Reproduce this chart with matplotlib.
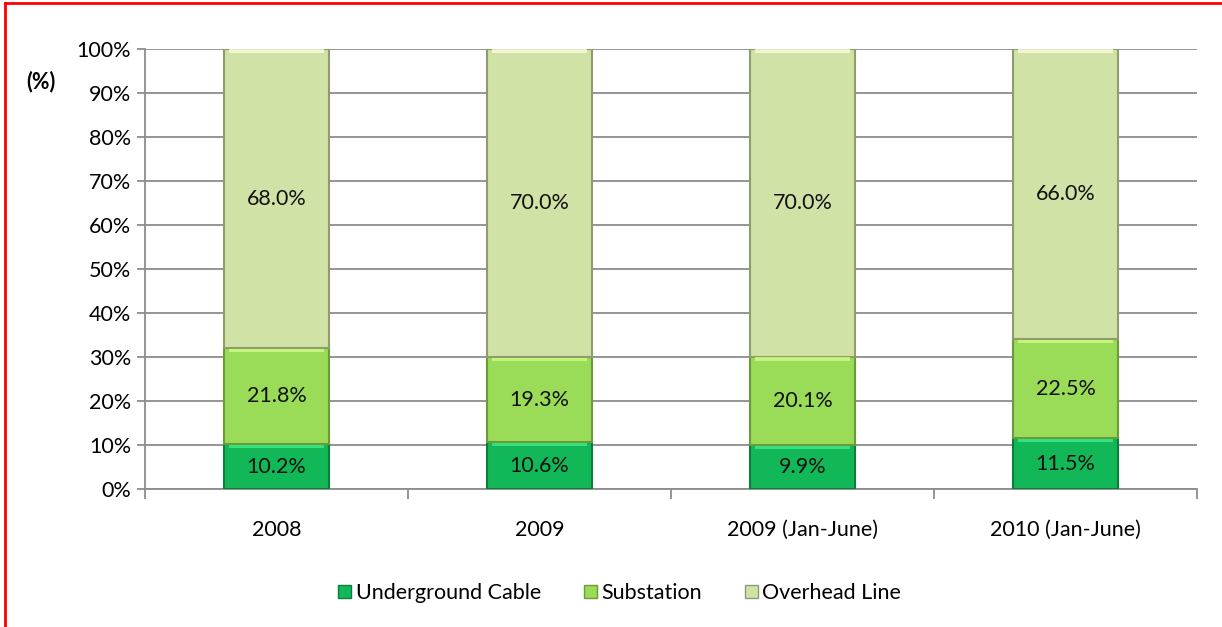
import numpy as np
import matplotlib.pyplot as plt
from matplotlib.lines import Line2D
from matplotlib.patches import Patch

plt.rcParams['font.family'] = ['Lato', 'DejaVu Sans']

# data
categories = ['2008', '2009', '2009 (Jan-June)', '2010 (Jan-June)']
series_names = ['Underground Cable', 'Substation', 'Overhead Line']
underground = [10.2, 10.6, 9.9, 11.5]
substation = [21.8, 19.3, 20.1, 22.5]
overhead = [68.0, 70.0, 70.0, 66.0]
y_ticks = [0, 10, 20, 30, 40, 50, 60, 70, 80, 90, 100]

face_colors = ['#12B857', '#9ADB58', '#D1E2A6']
edge_colors = ['#0B7E3A', '#6C9A3A', '#8E9C6E']
top_colors = ['#3FF08E', '#D6FF8A', '#FFFFE0']

fs = 15.5

fig = plt.figure(figsize=(12.22, 6.27), dpi=100)
ax = fig.add_axes([0.1187, 0.2201, 0.8608, 0.7018])

x = np.arange(len(categories))
bar_w = 0.4
series = [underground, substation, overhead]

# 100% stacked: normalise each column
totals = np.sum(series, axis=0)
bottom = np.zeros(len(categories))
for vals, fc, ec, tc in zip(series, face_colors, edge_colors, top_colors):
    share = np.array(vals) / totals * 100
    ax.bar(x, share, bar_w, bottom=bottom, color=fc, edgecolor=ec,
           linewidth=1.5, zorder=3)
    # light bevel strip along the top of each segment
    ax.bar(x, 0.8, bar_w * 0.9, bottom=bottom + share - 0.9, color=tc,
           linewidth=0, zorder=4, alpha=0.75)
    for xi, b, s, v in zip(x, bottom, share, vals):
        ax.text(xi, b + s / 2, f'{v:.1f}%', ha='center', va='center',
                fontsize=fs, color='#111111', zorder=5)
    bottom = bottom + share

ax.set_xlim(-0.5, len(categories) - 0.5)
ax.set_ylim(0, 100)
ax.set_yticks(y_ticks)
ax.set_yticklabels([f'{t}%' for t in y_ticks])
ax.yaxis.grid(True, color='#8C8C8C', linewidth=1.3, zorder=0)
ax.set_axisbelow(True)

ax.set_xticks(x)
ax.set_xticklabels(categories)
ax.tick_params(axis='x', length=0, pad=22, labelsize=fs)
ax.tick_params(axis='y', length=6, width=1.3, color='#8C8C8C', pad=4, labelsize=fs)
# category boundary ticks
ax.set_xticks(np.arange(len(categories) + 1) - 0.5, minor=True)
ax.tick_params(axis='x', which='minor', length=7, width=1.3, color='#8C8C8C', direction='out')

for side in ['top', 'right']:
    ax.spines[side].set_visible(False)
for side in ['left', 'bottom']:
    ax.spines[side].set_color('#8C8C8C')
    ax.spines[side].set_linewidth(1.3)

fig.text(0.0335, 0.870, '(%)', fontsize=fs, fontweight='bold', ha='center', va='center')

handles = [Patch(facecolor=fc, edgecolor=ec, linewidth=1) for fc, ec in zip(face_colors, edge_colors)]
fig.legend(handles, series_names, loc='center', bbox_to_anchor=(0.507, 0.054), ncol=3,
           frameon=False, fontsize=fs, handlelength=0.6, handleheight=0.6,
           handletextpad=0.2, columnspacing=2.0)

# red frame on the left and top edges
fig.add_artist(Line2D([0.0045, 0.0045], [0, 0.995], color='red', linewidth=2))
fig.add_artist(Line2D([0.0045, 1], [0.995, 0.995], color='red', linewidth=2))

fig.savefig('out.png', dpi=100)
